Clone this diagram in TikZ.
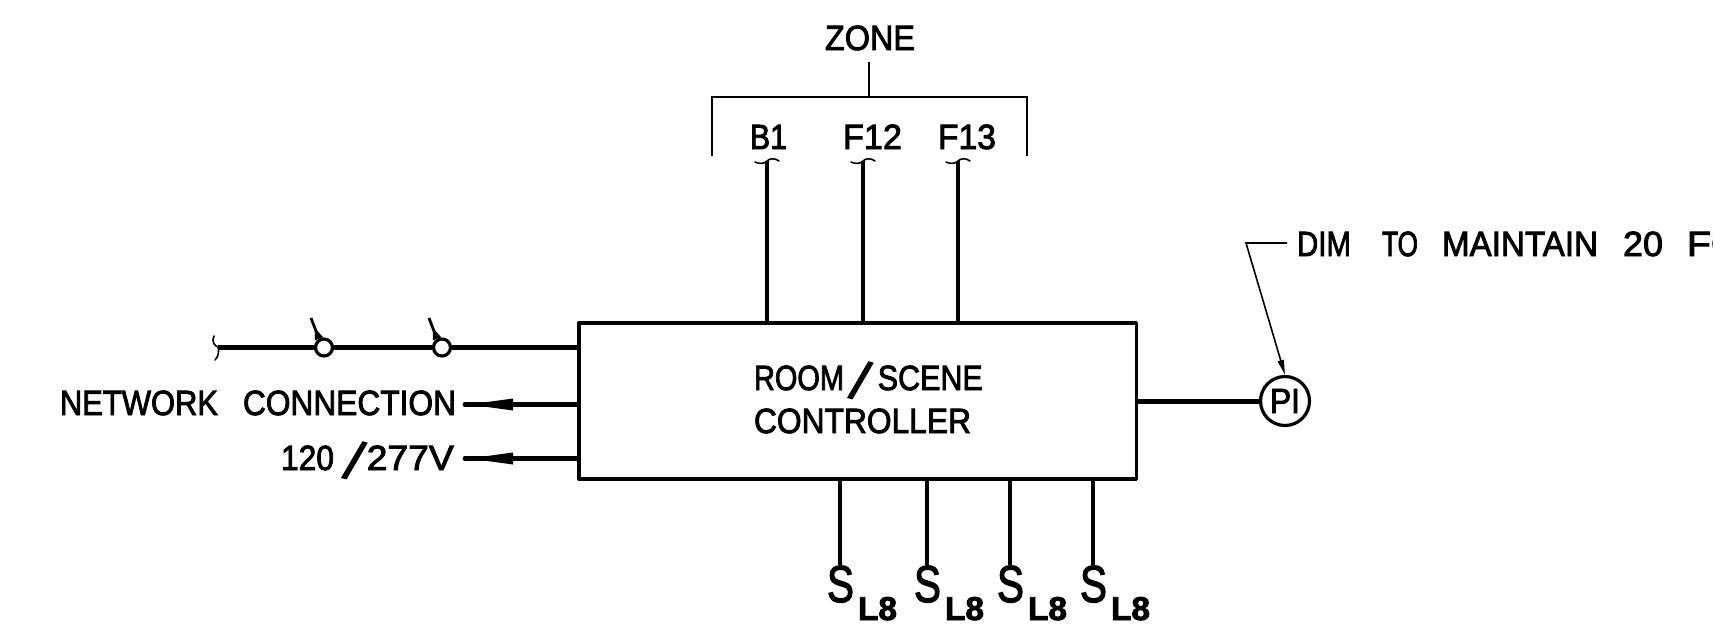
\documentclass[tikz,border=0pt]{standalone}
\usepackage{fontspec}
\usepackage{graphicx}
\setmainfont[FakeBold=2.5]{Liberation Sans}
\usetikzlibrary{arrows.meta,calc}
\newcommand{\fit}[3]{\resizebox{#1pt}{\height}{\fontsize{#2pt}{#2pt}\selectfont #3}}
\newcommand{\bigslash}{\smash{\raisebox{-7pt}{\rotatebox{-15}{\fontsize{54}{54}\selectfont /}}}}
\tikzset{
  lbl/.style={anchor=base west,inner sep=0pt,outer sep=0pt},
  thinw/.style={line width=1.7pt},
  conn/.style={line width=4.2pt},
  hconn/.style={line width=5pt},
  squig/.style={line width=1.6pt,line cap=round},
  ctrlbox/.style={draw,line width=3.6pt,line join=round,minimum width=557.5pt,minimum height=156pt,inner sep=0pt,anchor=north west},
  contact/.style={circle,draw,fill=white,line width=3.2pt,minimum size=17pt,inner sep=0pt},
  picirc/.style={circle,draw,fill=white,line width=3.2pt,minimum size=49pt,inner sep=0pt}
}
\begin{document}
\begin{tikzpicture}[x=1pt,y=-1pt]
\useasboundingbox (0,0) rectangle (1713,629);
\clip (0,0) rectangle (1713,629);
\node[ctrlbox] (ctrl) at (577,321) {};
\node[lbl] (room) at (754,390) {\fit{90}{35}{ROOM}\hspace{4pt}\bigslash\hspace{5pt}\fit{105}{35}{SCENE}};
\node[lbl] (controller) at (754,433) {\fit{217}{35}{CONTROLLER}};
% zone
\node[lbl] (zone) at (825,50) {\fit{90}{35}{ZONE}};
\node[lbl] (b1) at (750,149) {\fit{37}{35}{B1}};
\node[lbl] (f12) at (843,149) {\fit{59}{35}{F12}};
\node[lbl] (f13) at (938,149) {\fit{58}{35}{F13}};
\coordinate (zs) at (869,62);
\coordinate (zj) at (869,97);
\coordinate (zl) at (712,97);
\coordinate (zr) at (1027,97);
\coordinate (zlb) at (712,156);
\coordinate (zrb) at (1027,156);
\draw[thinw] (zs) -- (zj);
\draw[thinw] (zlb) -- (zl) -- (zr) -- (zrb);
\foreach \n/\x in {za/767,zb/863,zc/958}{
  \coordinate (\n) at (\x,161);
  \draw[conn] (\n) -- (\n |- ctrl.north);
  \draw[squig] ($(\n)+(-12,1)$) .. controls ($(\n)+(-8,3)$) and ($(\n)+(-3,3)$) .. ($(\n)+(0,0)$) .. controls ($(\n)+(3,-3)$) and ($(\n)+(8,-3)$) .. ($(\n)+(12,0)$);
}
% left line
\coordinate (lw) at (218,347.5);
\node[contact] (c1) at (324,347.5) {};
\node[contact] (c2) at (442,347.5) {};
\draw[hconn] (lw) -- (c1);
\draw[hconn] (c1) -- (c2);
\draw[hconn] (c2) -- (lw -| ctrl.west);
\draw[squig] (214,336) .. controls (211,342) and (215,346) .. (218,347) .. controls (219,351) and (219,356) .. (215,360);
\coordinate (t1) at (311,318);
\coordinate (t2) at (429,318);
\draw[line width=2.8pt,-{Triangle[length=12pt,width=8pt,reversed]}] (t1) -- (c1.120);
\draw[line width=2.8pt,-{Triangle[length=12pt,width=8pt,reversed]}] (t2) -- (c2.120);
% outputs
\node[lbl] (net) at (60,415) {\fit{158}{35}{NETWORK}\hspace{25pt}\fit{213}{35}{CONNECTION}};
\node[lbl] (volt) at (281,470) {\fit{53}{35}{120}\hspace{8pt}\bigslash\hspace{0pt}\fit{87}{35}{277V}};
\coordinate (na) at (465,404.5);
\coordinate (va) at (465,458.5);
\foreach \a in {na,va}{
  \draw[hconn,line cap=round] (\a) -- (\a -| ctrl.west);
  \fill ($(\a)+(4,0)$) -- ($(\a)+(48,-6)$) -- ($(\a)+(48,6)$) -- cycle;
}
% PI
\node[picirc] (pi) at (1285,401) {\fit{30}{35}{PI}};
\draw[hconn] (pi.west) -- (pi.west -| ctrl.east);
\node[lbl] (dim) at (1297,256) {\fit{54}{35}{DIM}\hspace{31pt}\fit{36}{35}{TO}\hspace{24pt}\fit{156}{35}{MAINTAIN}\hspace{25pt}\fit{40}{35}{20}\hspace{24pt}\fit{52}{35}{FC}};
\coordinate (l1) at (1287,243);
\coordinate (l2) at (1246,243);
\draw[line width=1.6pt,-{Triangle[length=15pt,width=6pt]}] (l1) -- (l2) -- (pi.north);
% switches
\foreach \n/\x/\s in {s1/840/827,s2/927/914,s3/1010/997,s4/1093/1080}{
  \coordinate (\n) at (\x,565);
  \draw[conn] (\n) -- (\n |- ctrl.south);
  \node[lbl] (\n t) at (\s,602) {\fit{27}{52}{S}};
  \node[lbl] (\n b) at (\s+31,620) {\fit{39}{33}{\bfseries L8}};
}
\end{tikzpicture}
\end{document}
